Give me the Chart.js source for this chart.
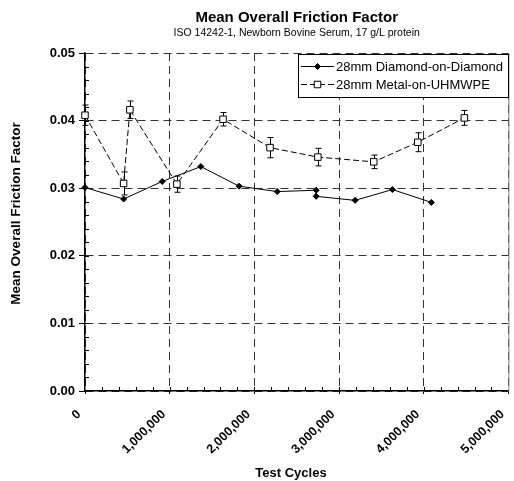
<!DOCTYPE html>
<html>
<head>
<meta charset="utf-8">
<title>Mean Overall Friction Factor</title>
<script src="https://cdn.jsdelivr.net/npm/chart.js@4.4.0/dist/chart.umd.min.js"></script>
<style>
    html, body { margin: 0; padding: 0; background: #fff; }
    #wrap { width: 514px; height: 481px; }
</style>
</head>
<body>
<div id="wrap"><canvas id="frictionChart" width="514" height="481"></canvas></div>
<script>
// Values
const diamondCycles = [0, 456000, 912000, 1368000, 1820000, 2270000, 2730000, 2730000, 3190000, 3630000, 4090000];
const diamondFriction = [0.0301, 0.0284, 0.0310, 0.0332, 0.0303, 0.0295, 0.0297, 0.0288, 0.0282, 0.0298, 0.0279];
const metalCycles = [0, 456000, 530000, 1085000, 1630000, 2185000, 2750000, 3410000, 3930000, 4480000];
const metalFriction = [0.0408, 0.0307, 0.0416, 0.0306, 0.0402, 0.0360, 0.0346, 0.0339, 0.0368, 0.0404];
const metalError = [0.0015, 0.0017, 0.0013, 0.0012, 0.0010, 0.0015, 0.0013, 0.0010, 0.0014, 0.0011];
const seriesLabels = ['28mm Diamond-on-Diamond', '28mm Metal-on-UHMWPE'];
const xTickValues = [0, 1000000, 2000000, 3000000, 4000000, 5000000];
const yTickValues = [0, 0.01, 0.02, 0.03, 0.04, 0.05];

const FONT = "'Liberation Sans', Arial, sans-serif";

// Chart area edges
const AREA = { left: 85, right: 509, top: 53, bottom: 391 };

const toPoints = (xs, ys) => xs.map((x, i) => ({ x: x, y: ys[i] }));

// Error bars, minor ticks, frame edge, axis titles and boxed legend
const frictionDecor = {
    id: 'frictionDecor',
    beforeDatasetsDraw: (chart) => {
        const ctx = chart.ctx;
        const xs = chart.scales.x;
        const ys = chart.scales.y;
        ctx.save();
        ctx.strokeStyle = '#000';
        ctx.lineWidth = 1;
        metalCycles.forEach((c, i) => {
            const x = Math.round(xs.getPixelForValue(c)) + 0.5;
            const top = ys.getPixelForValue(metalFriction[i] + metalError[i]);
            const bot = ys.getPixelForValue(metalFriction[i] - metalError[i]);
            ctx.beginPath();
            ctx.moveTo(x, top); ctx.lineTo(x, bot);
            ctx.moveTo(x - 3, top); ctx.lineTo(x + 3, top);
            ctx.moveTo(x - 3, bot); ctx.lineTo(x + 3, bot);
            ctx.stroke();
        });
        ctx.restore();
    },
    afterDraw: (chart) => {
        const ctx = chart.ctx;
        const xs = chart.scales.x;
        const ys = chart.scales.y;
        const area = chart.chartArea;
        ctx.save();

        // right edge of the frame
        ctx.strokeStyle = '#808080';
        ctx.lineWidth = 1;
        ctx.beginPath();
        ctx.moveTo(area.right + 0.5, area.top);
        ctx.lineTo(area.right + 0.5, area.bottom);
        ctx.stroke();

        // minor ticks, pointing into the plot
        ctx.strokeStyle = '#000';
        ctx.beginPath();
        for (let v = 0.002; v < 0.05; v += 0.002) {
            const y = Math.round(ys.getPixelForValue(v)) + 0.5;
            ctx.moveTo(area.left, y); ctx.lineTo(area.left + 4, y);
        }
        for (let v = 200000; v < 5000000; v += 200000) {
            const x = Math.round(xs.getPixelForValue(v)) + 0.5;
            ctx.moveTo(x, area.bottom); ctx.lineTo(x, area.bottom - 4);
        }
        ctx.stroke();

        // axis titles
        ctx.fillStyle = '#000';
        ctx.textAlign = 'center';
        ctx.textBaseline = 'middle';
        ctx.font = 'bold 13px ' + FONT;
        ctx.fillText('Test Cycles', 291, 473);
        ctx.save();
        ctx.translate(16, 213.5);
        ctx.rotate(-Math.PI / 2);
        ctx.font = 'bold 13.5px ' + FONT;
        ctx.fillText('Mean Overall Friction Factor', 0, 0);
        ctx.restore();

        // legend box
        const box = { left: 298, top: 54, right: 508, bottom: 97 };
        ctx.fillStyle = '#fff';
        ctx.fillRect(box.left, box.top, box.right - box.left, box.bottom - box.top);
        ctx.strokeStyle = '#000';
        ctx.lineWidth = 1;
        ctx.strokeRect(box.left + 0.5, box.top + 0.5, box.right - box.left, box.bottom - box.top);

        const rows = [66.5, 84.5];
        chart.data.datasets.forEach((ds, i) => {
            const y = rows[i];
            ctx.strokeStyle = '#000';
            ctx.lineWidth = 1;
            ctx.setLineDash(ds.borderDash || []);
            ctx.beginPath();
            ctx.moveTo(301, y); ctx.lineTo(334, y);
            ctx.stroke();
            ctx.setLineDash([]);
            ctx.fillStyle = ds.pointBackgroundColor;
            ctx.strokeStyle = ds.pointBorderColor;
            Chart.helpers.drawPoint(ctx, {
                pointStyle: ds.pointStyle,
                radius: ds.pointRadius,
                rotation: 0,
                borderWidth: ds.pointBorderWidth
            }, 317.5, y);
            ctx.fillStyle = '#000';
            ctx.font = '13px ' + FONT;
            ctx.textAlign = 'left';
            ctx.textBaseline = 'middle';
            ctx.fillText(ds.label, 336, y + 0.5);
        });
        ctx.restore();
    }
};

const frictionChart = new Chart(document.getElementById('frictionChart'), {
    type: 'line',
    data: {
        datasets: [
            {
                label: seriesLabels[0],
                data: toPoints(diamondCycles, diamondFriction),
                borderColor: '#000',
                borderWidth: 1,
                pointStyle: 'rectRot',
                pointRadius: 3,
                pointBackgroundColor: '#000',
                pointBorderColor: '#000',
                pointBorderWidth: 1,
                tension: 0,
                clip: false
            },
            {
                label: seriesLabels[1],
                data: toPoints(metalCycles, metalFriction),
                borderColor: '#000',
                borderWidth: 1,
                borderDash: [6, 3],
                pointStyle: 'rect',
                pointRadius: 4.6,
                pointBackgroundColor: '#fff',
                pointBorderColor: '#000',
                pointBorderWidth: 1,
                tension: 0,
                clip: false
            }
        ]
    },
    options: {
        responsive: false,
        animation: false,
        devicePixelRatio: 1,
        layout: { padding: { left: 0, right: 514 - AREA.right, top: 0, bottom: 0 } },
        plugins: {
            legend: { display: false },
            tooltip: { enabled: false },
            title: {
                display: true,
                text: 'Mean Overall Friction Factor',
                color: '#000',
                fullSize: false,
                font: { family: FONT, size: 15, weight: 'bold' },
                padding: { top: 8.5, bottom: 0 }
            },
            subtitle: {
                display: true,
                text: 'ISO 14242-1, Newborn Bovine Serum, 17 g/L protein',
                color: '#000',
                fullSize: false,
                font: { family: FONT, size: 10.5 },
                padding: { top: 0, bottom: 13.9 }
            }
        },
        scales: {
            x: {
                type: 'linear',
                min: 0,
                max: 5000000,
                afterFit: (scale) => {
                    scale.height = 481 - AREA.bottom;
                    scale.paddingLeft = 0;
                    scale.paddingRight = 0;
                },
                afterBuildTicks: (scale) => { scale.ticks = xTickValues.map(v => ({ value: v })); },
                ticks: {
                    autoSkip: false,
                    maxRotation: 45,
                    minRotation: 45,
                    padding: 13,
                    labelOffset: -6,
                    color: '#000',
                    font: { family: FONT, size: 12.5, weight: 'bold' },
                    callback: (v) => Number(v).toLocaleString('en-US')
                },
                grid: { color: '#333', lineWidth: 1, tickLength: 3, tickColor: '#000' },
                border: { display: true, color: '#000', width: 1.5, dash: [8, 5] },
                title: { display: false }
            },
            y: {
                min: 0,
                max: 0.05,
                afterFit: (scale) => { scale.width = AREA.left; },
                afterBuildTicks: (scale) => { scale.ticks = yTickValues.map(v => ({ value: v })); },
                ticks: {
                    padding: 4,
                    color: '#000',
                    font: { family: FONT, size: 13, weight: 'bold' },
                    callback: (v) => Number(v).toFixed(2)
                },
                grid: { color: '#333', lineWidth: 1, tickLength: 6, tickColor: '#000' },
                border: { display: true, color: '#000', width: 1.5, dash: [8, 5] },
                title: { display: false }
            }
        }
    },
    plugins: [frictionDecor]
});
</script>
</body>
</html>
